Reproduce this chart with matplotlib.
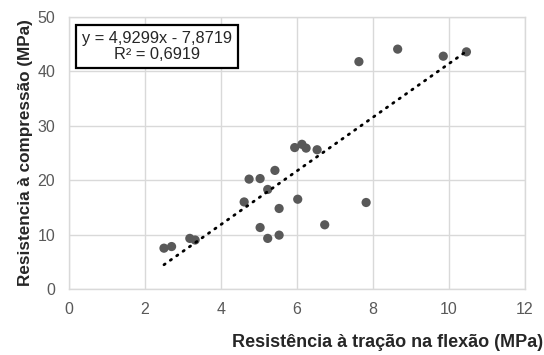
import matplotlib
matplotlib.use('Agg')
import matplotlib.pyplot as plt
import numpy as np

plt.rcParams['font.family'] = ['Liberation Sans', 'DejaVu Sans']

# tração na flexão (MPa) x compressão (MPa)
flexao = [2.50, 2.70, 3.18, 3.32, 4.61, 4.74, 5.03, 5.03, 5.23, 5.23, 5.42, 5.53,
          5.53, 5.94, 6.02, 6.13, 6.24, 6.53, 6.73, 7.63, 7.82, 8.65, 9.85, 10.46]
compressao = [7.5, 7.8, 9.3, 9.0, 16.0, 20.2, 20.3, 11.3, 18.3, 9.3, 21.8, 14.8,
              9.9, 26.0, 16.5, 26.6, 25.9, 25.6, 11.8, 41.8, 15.9, 44.1, 42.8, 43.6]

# linha de tendência linear
coef_a = 4.9299
coef_b = -7.8719
r2 = 0.6919

grey_txt = '#595959'
grid_c = '#d9d9d9'

fig = plt.figure(figsize=(5.44, 3.55), dpi=100)
ax = fig.add_axes([0.1268, 0.186, 0.8382, 0.766])

ax.scatter(flexao, compressao, s=44, color='#595959', edgecolors='none', zorder=3)

xt = np.array([min(flexao), max(flexao)])
ax.plot(xt, coef_a * xt + coef_b, color='black', lw=2, linestyle=(0, (0.5, 2.3)),
        dash_capstyle='round', zorder=4)

ax.set_xlim(0, 12)
ax.set_ylim(0, 50)
ax.set_xticks(range(0, 13, 2))
ax.set_yticks(range(0, 51, 10))
ax.grid(True, color=grid_c, lw=1)
ax.set_axisbelow(True)
for sp in ax.spines.values():
    sp.set_color(grid_c)
    sp.set_linewidth(1)
ax.tick_params(length=0, labelsize=11.5, labelcolor=grey_txt)
ax.tick_params(axis='y', pad=10)
ax.tick_params(axis='x', pad=9.5)

ax.set_ylabel('Resistencia à compressão (MPa)', fontsize=12.3, fontweight='bold',
              color='#262626', labelpad=3)
fig.text(0.998, 0.034, 'Resistência à tração na flexão (MPa)', fontsize=13,
         fontweight='bold', color='#262626', ha='right', va='center')

eq = 'y = {}x - {}\nR² = {}'.format(str(coef_a).replace('.', ','),
                                     str(-coef_b).replace('.', ','),
                                     str(r2).replace('.', ','))
ax.text(0.029, 0.8915, eq, transform=ax.transAxes, fontsize=11.8, ha='left', va='center',
        multialignment='center', linespacing=1.1, color='#262626',
        bbox=dict(boxstyle='square,pad=0.35', fc='white', ec='black', lw=1.6))

fig.savefig('out.png', dpi=100)
